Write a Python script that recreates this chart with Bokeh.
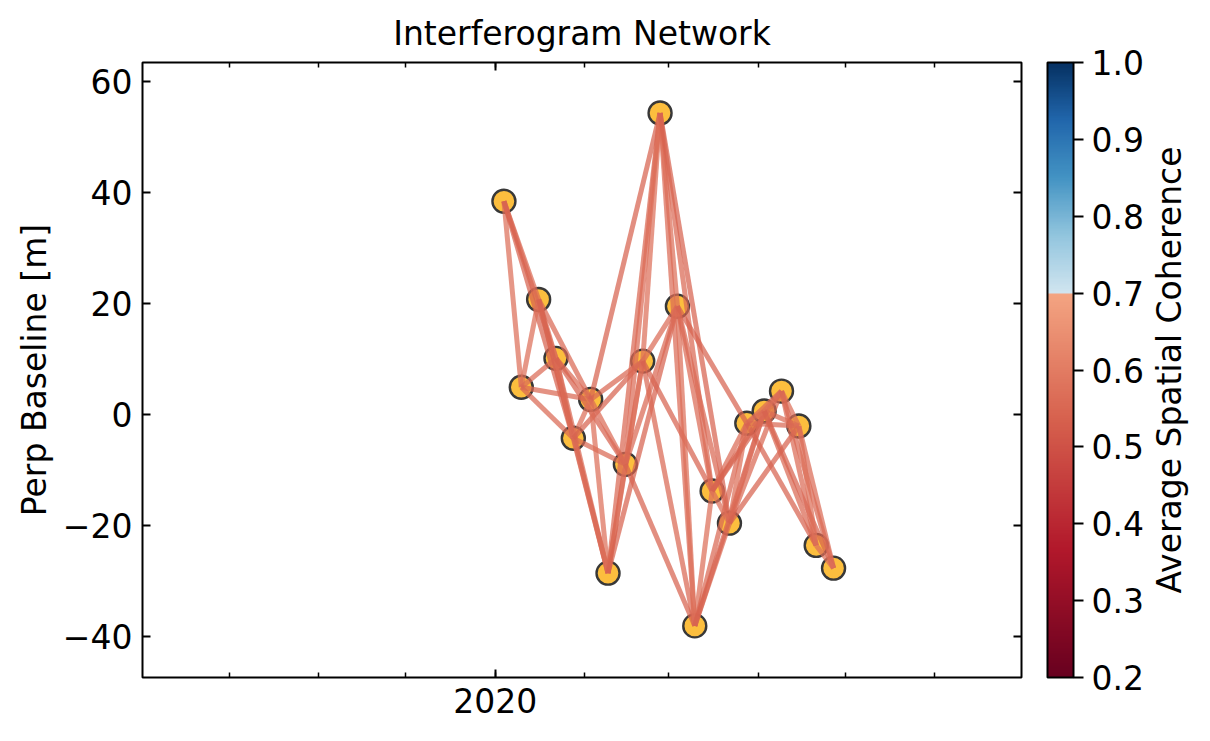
import math
import numpy as np
from bokeh.plotting import figure
from bokeh.layouts import row
from bokeh.models import (ColumnDataSource, Range1d, FixedTicker, CustomJSTickFormatter,
                          LinearAxis, DatetimeAxis, ColorBar, LinearColorMapper,
                          PrintfTickFormatter, Title)
from bokeh.transform import linear_cmap
from bokeh.embed import file_html
from bokeh.resources import INLINE

# ---------------- data ----------------
acq_dates = ["2020-01-04", "2020-01-10", "2020-01-16", "2020-01-22", "2020-01-28",
             "2020-02-03", "2020-02-09", "2020-02-15", "2020-02-21", "2020-02-27",
             "2020-03-04", "2020-03-10", "2020-03-16", "2020-03-22", "2020-03-28",
             "2020-04-03", "2020-04-09", "2020-04-15", "2020-04-21", "2020-04-27"]
perp_baseline = [38.5, 5.0, 20.8, 10.2, -4.2, 2.8, -28.5, -8.9, 9.7, 54.4,
                 19.6, -38.0, -13.7, -19.5, -1.5, 0.7, 4.3, -2.0, -23.5, -27.6]

# interferogram pairs (reference index, secondary index) and their average coherence
ifg_ref = [0, 0, 0, 0, 1, 1, 1, 1, 2, 2, 2, 2, 3, 3, 3, 3, 4, 4, 4, 4,
           5, 5, 5, 5, 6, 6, 6, 6, 7, 7, 7, 7, 8, 8, 8, 8, 9, 9, 9, 9,
           10, 10, 10, 10, 11, 11, 11, 11, 12, 12, 12, 12, 13, 13, 13, 13,
           14, 14, 14, 14, 15, 15, 15, 15, 16, 16, 16, 17, 17, 18]
ifg_sec = [1, 2, 3, 4, 2, 3, 4, 5, 3, 4, 5, 6, 4, 5, 6, 7, 5, 6, 7, 8,
           6, 7, 8, 9, 7, 8, 9, 10, 8, 9, 10, 11, 9, 10, 11, 12, 10, 11, 12, 13,
           11, 12, 13, 14, 12, 13, 14, 15, 13, 14, 15, 16, 14, 15, 16, 17,
           15, 16, 17, 18, 16, 17, 18, 19, 17, 18, 19, 18, 19, 19]
ifg_coherence = [0.57, 0.56, 0.55, 0.54, 0.57, 0.56, 0.55, 0.55, 0.57, 0.56, 0.55, 0.54,
                 0.57, 0.56, 0.55, 0.54, 0.57, 0.56, 0.55, 0.54, 0.57, 0.56, 0.55, 0.54,
                 0.57, 0.56, 0.55, 0.54, 0.57, 0.56, 0.55, 0.54, 0.57, 0.56, 0.55, 0.54,
                 0.57, 0.56, 0.55, 0.54, 0.57, 0.56, 0.55, 0.54, 0.57, 0.56, 0.55, 0.54,
                 0.57, 0.56, 0.55, 0.54, 0.57, 0.56, 0.55, 0.54, 0.57, 0.56, 0.55, 0.54,
                 0.57, 0.56, 0.55, 0.54, 0.57, 0.56, 0.55, 0.57, 0.56, 0.57]

y_ticks = [-40, -20, 0, 20, 40, 60]
x_major_tick = "2020-01-01"
x_minor_ticks = ["2019-10-01", "2019-11-01", "2019-12-01", "2020-01-01", "2020-02-01",
                 "2020-03-01", "2020-04-01", "2020-05-01", "2020-06-01"]
cbar_ticks = [0.2, 0.3, 0.4, 0.5, 0.6, 0.7, 0.8, 0.9, 1.0]
x_limits = ["2019-09-01", "2020-07-01"]
y_limits = [-47.3, 63.5]
coh_limits = [0.2, 1.0]

# ---------------- helpers ----------------
def ms(d):
    return float((np.datetime64(d) - np.datetime64("1970-01-01")) / np.timedelta64(1, "ms"))

# RdBu split colormap: 0.2-0.7 -> red half, 0.7-1.0 -> blue half
rdbu = ["#67001f", "#b2182b", "#d6604d", "#f4a582", "#fddbc7", "#f7f7f7",
        "#d1e5f0", "#92c5de", "#4393c3", "#2166ac", "#053061"]
def rgb(h):
    return [int(h[i:i + 2], 16) for i in (1, 3, 5)]
def rdbu_at(pos):
    f = pos * 10
    i = min(int(f), 9)
    t = f - i
    a, b = rgb(rdbu[i]), rgb(rdbu[i + 1])
    return "#%02x%02x%02x" % tuple(int(round(a[k] + (b[k] - a[k]) * t)) for k in range(3))
palette = []
N = 256
for i in range(N):
    c = coh_limits[0] + (i + 0.5) / N * (coh_limits[1] - coh_limits[0])
    pos = 0.6 * (c - 0.2) if c < 0.7 else 0.6 + 0.4 * (c - 0.7) / 0.3
    palette.append(rdbu_at(pos))

x_dates = [np.datetime64(d) for d in acq_dates]
pts = ColumnDataSource(dict(x=x_dates, y=perp_baseline))
edges = ColumnDataSource(dict(
    x0=[x_dates[i] for i in ifg_ref], y0=[perp_baseline[i] for i in ifg_ref],
    x1=[x_dates[j] for j in ifg_sec], y1=[perp_baseline[j] for j in ifg_sec],
    coh=ifg_coherence))

FONT = "DejaVu Sans"
FS = "33px"
H = 725
TOP, BOTTOM = 62, 48

p = figure(width=1147, height=H, x_axis_type="datetime",
           x_range=Range1d(np.datetime64(x_limits[0]), np.datetime64(x_limits[1])),
           y_range=Range1d(y_limits[0], y_limits[1]),
           output_backend="svg", toolbar_location=None,
           min_border_left=142, min_border_top=TOP, min_border_bottom=BOTTOM,
           min_border_right=126)
p.grid.visible = False
p.outline_line_color = "black"
p.outline_line_width = 2
p.background_fill_color = "white"

p.title.text = "Interferogram Network"
p.title.align = "center"
p.title.text_font = FONT
p.title.text_font_size = FS
p.title.text_font_style = "normal"
p.title.text_color = "black"
p.title.standoff = 19

xticker = FixedTicker(ticks=[ms(x_major_tick)], minor_ticks=[ms(d) for d in x_minor_ticks])
yticker = FixedTicker(ticks=y_ticks)

xa = p.below[0]
xa.ticker = xticker
xa.formatter = CustomJSTickFormatter(code="return String(new Date(tick).getUTCFullYear());")
ya = p.left[0]
ya.ticker = yticker
ya.formatter = CustomJSTickFormatter(code="return tick < 0 ? '\u2212' + Math.abs(tick) : String(tick);")
ya.axis_label = "Perp Baseline [m]"
ya.axis_label_standoff = 6
ya.axis_label_text_font = FONT
ya.axis_label_text_font_size = FS
ya.axis_label_text_font_style = "normal"
ya.axis_label_text_color = "black"

for ax in (xa, ya):
    ax.major_label_text_font = FONT
    ax.major_label_text_font_size = FS
    ax.major_label_text_color = "black"
xa.major_label_standoff = 10
ya.major_label_standoff = 10

blank = CustomJSTickFormatter(code="return '';")
ra = LinearAxis(ticker=yticker, formatter=blank, major_label_standoff=0)
ta = DatetimeAxis(ticker=xticker, formatter=blank, major_label_standoff=0)
p.add_layout(ra, "right")
p.add_layout(ta, "above")

for ax in (xa, ya, ra, ta):
    ax.axis_line_color = None
    ax.major_tick_in = 8
    ax.major_tick_out = 0
    ax.minor_tick_in = 5
    ax.minor_tick_out = 0
    ax.major_tick_line_color = "black"
    ax.minor_tick_line_color = "black"
    ax.major_tick_line_width = 2
    ax.minor_tick_line_width = 1.5

p.scatter("x", "y", source=pts, size=23, fill_color="#fcbe3e", line_color="#383838",
          line_width=2.4)
p.segment("x0", "y0", "x1", "y1", source=edges,
          line_color=linear_cmap("coh", palette, coh_limits[0], coh_limits[1]),
          line_width=5, line_alpha=0.72)

mapper = LinearColorMapper(palette=palette, low=coh_limits[0], high=coh_limits[1])
cb = ColorBar(color_mapper=mapper, ticker=FixedTicker(ticks=cbar_ticks),
              formatter=PrintfTickFormatter(format="%.1f"), width=26, height=615,
              location=(905, 0), padding=0, margin=0, label_standoff=8,
              major_label_text_font=FONT, major_label_text_font_size=FS,
              major_label_text_color="black",
              major_tick_in=0, major_tick_out=10, major_tick_line_color="black",
              major_tick_line_width=2, minor_tick_line_color=None,
              bar_line_color="black", bar_line_width=2,
              border_line_color=None, background_fill_color=None)
p.add_layout(cb, "center")

# narrow companion figure carrying the colour-bar label (reads bottom-to-top)
p2 = figure(width=44, height=H, x_range=Range1d(0, 1), y_range=Range1d(0, 1),
            output_backend="svg", toolbar_location=None,
            min_border_left=0, min_border_right=0, min_border_top=TOP, min_border_bottom=BOTTOM)
p2.axis.visible = False
p2.grid.visible = False
p2.outline_line_color = None
p2.background_fill_color = None
p2.border_fill_color = None
p2.add_layout(Title(text="Average Spatial Coherence", align="center", text_font=FONT,
                    text_font_size=FS, text_font_style="normal", text_color="black",
                    standoff=0), "left")

layout = row(p, p2, spacing=0)
open("out.html", "w").write(file_html(layout, INLINE))
